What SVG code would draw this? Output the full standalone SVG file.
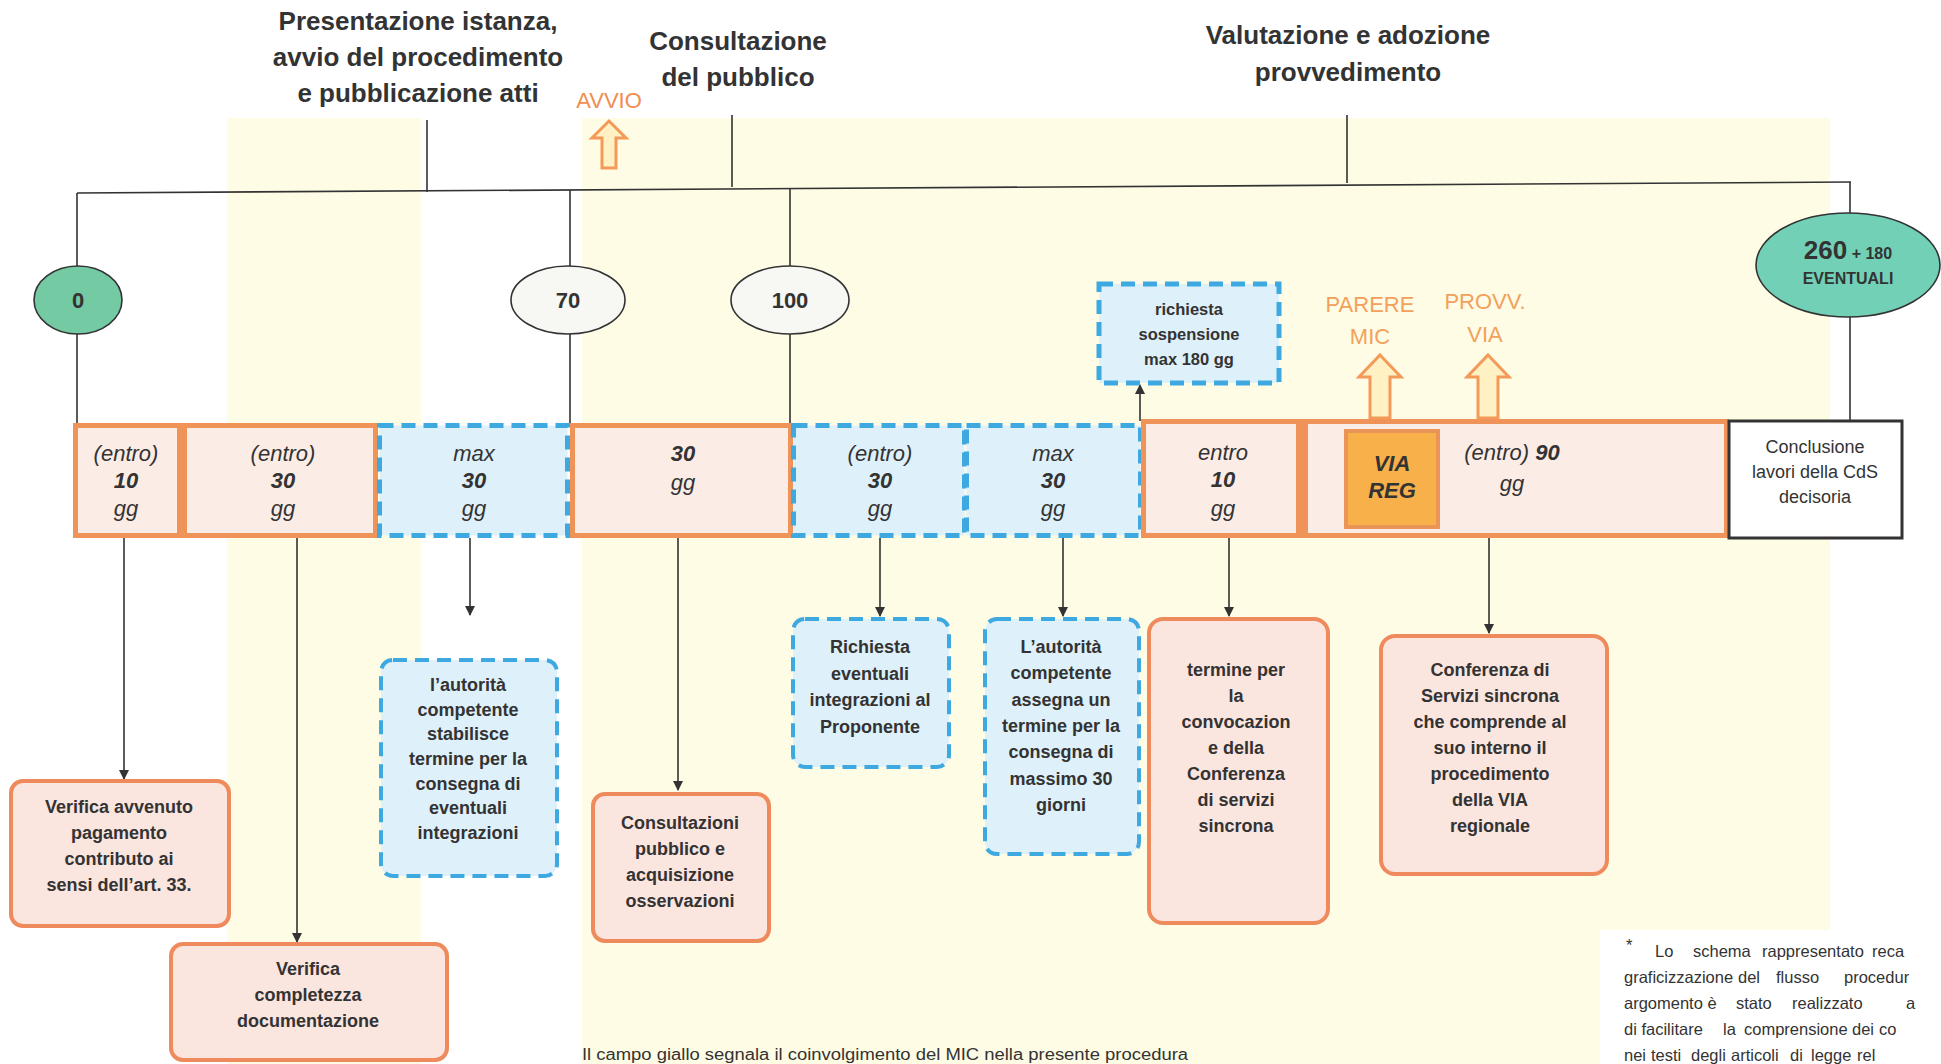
<svg xmlns="http://www.w3.org/2000/svg" width="1941" height="1064" viewBox="0 0 1941 1064">
<defs>
<marker id="arr" viewBox="0 0 10 10" refX="9" refY="5" markerWidth="10" markerHeight="10" markerUnits="userSpaceOnUse" orient="auto">
<path d="M0,0 L10,5 L0,10 z" fill="#333"/>
</marker>
<style>
text{font-family:"Liberation Sans",Arial,sans-serif;fill:#333;text-anchor:middle}
.title{font-size:26px;font-weight:bold}
.bar{font-size:22px;font-style:italic}
.bb{font-weight:bold}
.bx{font-size:18px;font-weight:bold}
.rg{font-size:18px}
.org{fill:#f3a05c;font-size:22px}
.ln{stroke:#333;stroke-width:1.6;fill:none}
.obar{fill:#fcece6;stroke:#ef9358;stroke-width:5}
.bbar{fill:#def0fa;stroke:#3ea8e0;stroke-width:5;stroke-dasharray:14 8}
.obox{fill:#fbe5df;stroke:#ef8a5c;stroke-width:4}
.bbox{fill:#def0fa;stroke:#3ea8e0;stroke-width:4;stroke-dasharray:14 8}
.hollow{fill:#fff1c4;stroke:#f39a58;stroke-width:3;stroke-linejoin:miter}
.note{font-size:16.5px;text-anchor:start}
</style>
</defs>

<g id="background">
<rect x="0" y="0" width="1941" height="1064" fill="#ffffff"/>
<rect x="227" y="118" width="194" height="946" fill="#fefce5"/>
<rect x="582" y="118" width="1248" height="946" fill="#fefce5"/>
<rect x="1600" y="930" width="241" height="134" fill="#ffffff"/>
</g>

<g id="titles">
<text class="title" x="418" y="30">Presentazione istanza,</text>
<text class="title" x="418" y="66">avvio del procedimento</text>
<text class="title" x="418" y="102">e pubblicazione atti</text>
<text class="title" x="738" y="50">Consultazione</text>
<text class="title" x="738" y="86">del pubblico</text>
<text class="title" x="1348" y="44">Valutazione e adozione</text>
<text class="title" x="1348" y="81">provvedimento</text>
</g>

<g id="connectors">
<line class="ln" x1="427" y1="120" x2="427" y2="192"/>
<line class="ln" x1="732" y1="115" x2="732" y2="187"/>
<line class="ln" x1="1347" y1="115" x2="1347" y2="183"/>
<line class="ln" x1="77" y1="193" x2="1851" y2="182"/>
<line class="ln" x1="77" y1="193" x2="77" y2="425"/>
<line class="ln" x1="570" y1="190" x2="570" y2="425"/>
<line class="ln" x1="790" y1="189" x2="790" y2="425"/>
<line class="ln" x1="1850" y1="182" x2="1850" y2="421"/>
<line class="ln" x1="1140" y1="421" x2="1140" y2="385" marker-end="url(#arr)"/>
<line class="ln" x1="124" y1="538" x2="124" y2="779" marker-end="url(#arr)"/>
<line class="ln" x1="297" y1="538" x2="297" y2="942" marker-end="url(#arr)"/>
<line class="ln" x1="470" y1="538" x2="470" y2="615" marker-end="url(#arr)"/>
<line class="ln" x1="678" y1="538" x2="678" y2="790" marker-end="url(#arr)"/>
<line class="ln" x1="880" y1="538" x2="880" y2="616" marker-end="url(#arr)"/>
<line class="ln" x1="1063" y1="538" x2="1063" y2="616" marker-end="url(#arr)"/>
<line class="ln" x1="1229" y1="538" x2="1229" y2="616" marker-end="url(#arr)"/>
<line class="ln" x1="1489" y1="538" x2="1489" y2="633" marker-end="url(#arr)"/>
</g>

<g id="avvio">
<text class="org" x="609" y="108" style="fill:#f08d50">AVVIO</text>
<polygon class="hollow" points="609,121 626,138 616,138 616,168 602,168 602,138 592,138"/>
</g>

<g id="n0">
<ellipse cx="78" cy="300" rx="44" ry="34" fill="#74caa2" stroke="#333" stroke-width="1.6"/>
<text x="78" y="308" style="font-size:22px;font-weight:bold">0</text>
</g>
<g id="n70">
<ellipse cx="568" cy="300" rx="57" ry="34" fill="#f7f7f4" stroke="#333" stroke-width="1.6"/>
<text x="568" y="308" style="font-size:22px;font-weight:bold">70</text>
</g>
<g id="n100">
<ellipse cx="790" cy="300" rx="59" ry="34" fill="#f7f7f4" stroke="#333" stroke-width="1.6"/>
<text x="790" y="308" style="font-size:22px;font-weight:bold">100</text>
</g>
<g id="n260">
<ellipse cx="1848" cy="265" rx="92" ry="52" fill="#72d0b6" stroke="#333" stroke-width="1.6"/>
<text x="1848" y="259" style="font-size:26px;font-weight:bold">260<tspan style="font-size:16px"> + 180</tspan></text>
<text x="1848" y="284" style="font-size:16px;font-weight:bold">EVENTUALI</text>
</g>

<g id="bar-entro10">
<rect class="obar" x="75.5" y="425.5" width="104" height="110"/>
<text class="bar" x="126" y="461">(entro)</text>
<text class="bar bb" x="126" y="488">10</text>
<text class="bar" x="126" y="516">gg</text>
</g>
<g id="bar-entro30">
<rect class="obar" x="184.5" y="425.5" width="191" height="110"/>
<rect x="179" y="428" width="6" height="105" fill="#ef9358"/>
<text class="bar" x="283" y="461">(entro)</text>
<text class="bar bb" x="283" y="488">30</text>
<text class="bar" x="283" y="516">gg</text>
</g>
<g id="bar-max30a">
<rect class="bbar" x="379.5" y="425.5" width="188" height="110"/>
<text class="bar" x="474" y="461">max</text>
<text class="bar bb" x="474" y="488">30</text>
<text class="bar" x="474" y="516">gg</text>
</g>
<g id="bar-30">
<rect class="obar" x="572.5" y="425.5" width="218" height="110"/>
<text class="bar bb" x="683" y="461">30</text>
<text class="bar" x="683" y="490">gg</text>
</g>
<g id="bar-entro30b">
<rect class="bbar" x="793.5" y="425.5" width="171" height="110"/>
<text class="bar" x="880" y="461">(entro)</text>
<text class="bar bb" x="880" y="488">30</text>
<text class="bar" x="880" y="516">gg</text>
</g>
<g id="bar-max30b">
<rect class="bbar" x="966.5" y="425.5" width="174" height="110"/>
<text class="bar" x="1053" y="461">max</text>
<text class="bar bb" x="1053" y="488">30</text>
<text class="bar" x="1053" y="516">gg</text>
</g>
<g id="bar-valutazione">
<rect class="obar" x="1143.5" y="421.5" width="583" height="114"/>
<rect x="1296" y="424" width="12" height="109" fill="#ef9358"/>
<rect x="1346" y="431" width="92" height="96" fill="#f7b04a" stroke="#ea9458" stroke-width="4"/>
<text class="bar" x="1223" y="460">entro</text>
<text class="bar bb" x="1223" y="487">10</text>
<text class="bar" x="1223" y="516">gg</text>
<text class="bar bb" x="1392" y="471">VIA</text>
<text class="bar bb" x="1392" y="498">REG</text>
<text class="bar" x="1512" y="460">(entro) <tspan class="bb">90</tspan></text>
<text class="bar" x="1512" y="491">gg</text>
</g>
<g id="conclusione">
<rect x="1729" y="421" width="173" height="117" fill="#ffffff" stroke="#333" stroke-width="3"/>
<text class="rg" x="1815" y="453">Conclusione</text>
<text class="rg" x="1815" y="478">lavori della CdS</text>
<text class="rg" x="1815" y="503">decisoria</text>
</g>

<g id="sospensione">
<rect class="bbar" x="1099" y="284" width="180" height="99"/>
<text x="1189" y="315" style="font-size:16.5px;font-weight:bold">richiesta</text>
<text x="1189" y="340" style="font-size:16.5px;font-weight:bold">sospensione</text>
<text x="1189" y="365" style="font-size:16.5px;font-weight:bold">max 180 gg</text>
</g>

<g id="parere-mic">
<text class="org" x="1370" y="312">PARERE</text>
<text class="org" x="1370" y="344">MIC</text>
<polygon class="hollow" points="1380,355 1401,377 1390,377 1390,418 1370,418 1370,377 1359,377"/>
</g>
<g id="provv-via">
<text class="org" x="1485" y="309">PROVV.</text>
<text class="org" x="1485" y="342">VIA</text>
<polygon class="hollow" points="1488,355 1509,377 1498,377 1498,418 1478,418 1478,377 1467,377"/>
</g>

<g id="box-verifica-pagamento">
<rect class="obox" x="11" y="781" width="218" height="145" rx="12"/>
<text class="bx" x="119" y="813">Verifica avvenuto</text>
<text class="bx" x="119" y="839">pagamento</text>
<text class="bx" x="119" y="865">contributo ai</text>
<text class="bx" x="119" y="891">sensi dell’art. 33.</text>
</g>
<g id="box-verifica-completezza">
<rect class="obox" x="171" y="944" width="276" height="116" rx="12"/>
<text class="bx" x="308" y="975">Verifica</text>
<text class="bx" x="308" y="1001">completezza</text>
<text class="bx" x="308" y="1027">documentazione</text>
</g>
<g id="box-autorita-stabilisce">
<rect class="bbox" x="381" y="660" width="176" height="216" rx="12"/>
<text class="bx" x="468" y="691">l’autorità</text>
<text class="bx" x="468" y="716">competente</text>
<text class="bx" x="468" y="740">stabilisce</text>
<text class="bx" x="468" y="765">termine per la</text>
<text class="bx" x="468" y="790">consegna di</text>
<text class="bx" x="468" y="814">eventuali</text>
<text class="bx" x="468" y="839">integrazioni</text>
</g>
<g id="box-consultazioni">
<rect class="obox" x="593" y="794" width="176" height="147" rx="12"/>
<text class="bx" x="680" y="829">Consultazioni</text>
<text class="bx" x="680" y="855">pubblico e</text>
<text class="bx" x="680" y="881">acquisizione</text>
<text class="bx" x="680" y="907">osservazioni</text>
</g>
<g id="box-richiesta-integrazioni">
<rect class="bbox" x="793" y="619" width="156" height="148" rx="12"/>
<text class="bx" x="870" y="653">Richiesta</text>
<text class="bx" x="870" y="680">eventuali</text>
<text class="bx" x="870" y="706">integrazioni al</text>
<text class="bx" x="870" y="733">Proponente</text>
</g>
<g id="box-autorita-assegna">
<rect class="bbox" x="985" y="619" width="154" height="235" rx="12"/>
<text class="bx" x="1061" y="653">L’autorità</text>
<text class="bx" x="1061" y="679">competente</text>
<text class="bx" x="1061" y="706">assegna un</text>
<text class="bx" x="1061" y="732">termine per la</text>
<text class="bx" x="1061" y="758">consegna di</text>
<text class="bx" x="1061" y="785">massimo 30</text>
<text class="bx" x="1061" y="811">giorni</text>
</g>
<g id="box-convocazione">
<rect class="obox" x="1149" y="619" width="179" height="304" rx="14"/>
<text class="bx" x="1236" y="676">termine per</text>
<text class="bx" x="1236" y="702">la</text>
<text class="bx" x="1236" y="728">convocazion</text>
<text class="bx" x="1236" y="754">e della</text>
<text class="bx" x="1236" y="780">Conferenza</text>
<text class="bx" x="1236" y="806">di servizi</text>
<text class="bx" x="1236" y="832">sincrona</text>
</g>
<g id="box-conferenza">
<rect class="obox" x="1381" y="636" width="226" height="238" rx="14"/>
<text class="bx" x="1490" y="676">Conferenza di</text>
<text class="bx" x="1490" y="702">Servizi sincrona</text>
<text class="bx" x="1490" y="728">che comprende al</text>
<text class="bx" x="1490" y="754">suo interno il</text>
<text class="bx" x="1490" y="780">procedimento</text>
<text class="bx" x="1490" y="806">della VIA</text>
<text class="bx" x="1490" y="832">regionale</text>
</g>

<g id="footer">
<text x="582" y="1060" style="font-size:16px;text-anchor:start" textLength="606" lengthAdjust="spacingAndGlyphs">Il campo giallo segnala il coinvolgimento del MIC nella presente procedura</text>
<text class="note" x="1626" y="951">*</text>
<text class="note" y="957"><tspan x="1655">Lo</tspan><tspan x="1693">schema</tspan><tspan x="1762">rappresentato</tspan><tspan x="1872">reca</tspan></text>
<text class="note" y="983"><tspan x="1624">graficizzazione</tspan><tspan x="1738">del</tspan><tspan x="1776">flusso</tspan><tspan x="1844">procedur</tspan></text>
<text class="note" y="1009"><tspan x="1624">argomento è</tspan><tspan x="1736">stato</tspan><tspan x="1792">realizzato</tspan><tspan x="1906">a</tspan></text>
<text class="note" y="1035"><tspan x="1624">di facilitare</tspan><tspan x="1723">la</tspan><tspan x="1744">comprensione</tspan><tspan x="1852">dei</tspan><tspan x="1879">co</tspan></text>
<text class="note" y="1061"><tspan x="1624">nei</tspan><tspan x="1651">testi</tspan><tspan x="1691">degli</tspan><tspan x="1731">articoli</tspan><tspan x="1790">di</tspan><tspan x="1811">legge</tspan><tspan x="1857">rel</tspan></text>
</g>
</svg>
